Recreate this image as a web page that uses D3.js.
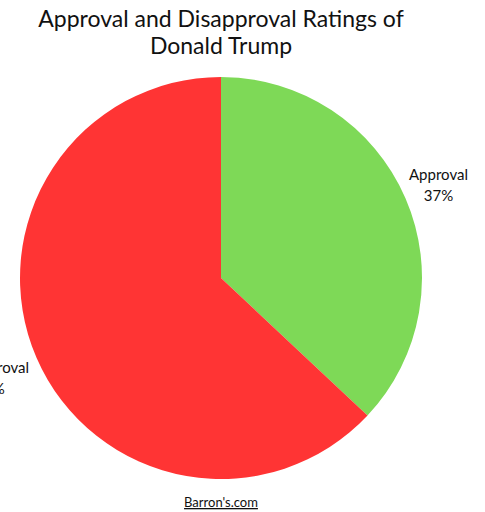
<!DOCTYPE html>
<html>
<head>
<meta charset="utf-8">
<script src="https://cdn.jsdelivr.net/npm/d3@7"></script>
<style>
  body { margin: 0; background: #fff; }
  svg { display: block; font-family: Lato, "Open Sans", sans-serif; }
</style>
</head>
<body>
<svg id="chart" width="485" height="512"></svg>
<script>
// chart data
var categories = ["Approval", "Disapproval"];
var values = [37, 63];
var colors = ["#7ed957", "#ff3434"];
var titleLines = ["Approval and Disapproval Ratings of", "Donald Trump"];
var sourceText = "Barron's.com";

var svg = d3.select("#chart");
var cx = 221, cy = 278, radius = 201;

// title
svg.selectAll(".title-line")
	.data(titleLines)
	.enter()
	.append("text")
	.attr("class", "title-line")
	.attr("x", cx)
	.attr("y", function(d, i){ return 27 + i * 27; })
	.attr("text-anchor", "middle")
	.style("font-size", "23px")
	.style("fill", "#111")
	.text(function(d){ return d; });

var pie = d3.pie().sort(null).value(function(d){ return d; });
var arcs = pie(values);
var arc = d3.arc().innerRadius(0).outerRadius(radius);
var labelArc = d3.arc().innerRadius(243).outerRadius(243);

var g = svg.append("g").attr("transform", "translate(" + cx + "," + cy + ")");

g.selectAll(".slice")
	.data(arcs)
	.enter()
	.append("path")
	.attr("class", "slice")
	.attr("d", arc)
	.style("fill", function(d, i){ return colors[i]; });

// labels: inner edge kept at a fixed distance from the centre
var labels = g.selectAll(".slice-label")
	.data(arcs)
	.enter()
	.append("text")
	.attr("class", "slice-label")
	.attr("text-anchor", "middle")
	.style("font-size", "15px")
	.style("fill", "#111");

labels.append("tspan")
	.attr("x", 0)
	.attr("dy", 0)
	.text(function(d, i){ return categories[i]; });
labels.append("tspan")
	.attr("x", 0)
	.attr("dy", 21)
	.text(function(d){ return d.value + "%"; });

labels.each(function(d){
	var node = d3.select(this);
	var w = this.getBBox().width;
	var c = labelArc.centroid(d);
	var right = c[0] > 0;
	var x = right ? 188 + w / 2 : -192 - w / 2;
	var y = c[1] - 1.5;
	node.attr("transform", "translate(" + x + "," + y + ")");
});

// source
svg.append("text")
	.attr("x", cx)
	.attr("y", 507)
	.attr("text-anchor", "middle")
	.style("font-size", "13px")
	.style("fill", "#111")
	.style("text-decoration", "underline")
	.text(sourceText);
</script>
</body>
</html>
